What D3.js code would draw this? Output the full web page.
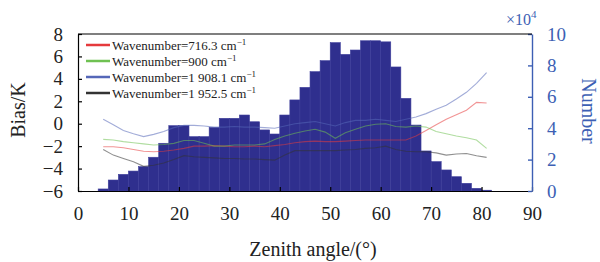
<!DOCTYPE html>
<html>
<head>
<meta charset="utf-8">
<script src="https://cdn.jsdelivr.net/npm/d3@7"></script>
<style>
  body { margin: 0; background: #fff; }
  svg text { font-family: "Liberation Serif", Tinos, "Times New Roman", Times, "DejaVu Serif", "Noto Serif", serif; }
</style>
</head>
<body>
<div id="chart"></div>
<script>
// histogram bins (left edge, 2 deg wide) and counts in units of 1e4
var binStart = [4, 6, 8, 10, 12, 14, 16, 18, 20, 22, 24, 26, 28, 30, 32, 34, 36, 38, 40, 42,
                44, 46, 48, 50, 52, 54, 56, 58, 60, 62, 64, 66, 68, 70, 72, 74, 76, 78, 80];
var binCount = [0.13, 0.7, 1.06, 1.27, 1.55, 2.15, 3.04, 4.16, 4.16, 3.46, 3.46, 4.05, 4.63, 4.63, 4.84, 4.41, 3.89, 3.63, 4.84, 5.8,
                6.6, 7.6, 8.3, 9.45, 8.7, 8.98, 9.57, 9.57, 9.5, 7.9, 5.9, 4.2, 2.55, 1.87, 1.34, 0.91, 0.49, 0.17, 0.05];

// bias curves, sampled at these zenith angles
var angles = [5, 7, 9, 11, 13, 15, 17, 19, 21, 23, 25, 27, 29, 31, 33, 35, 37, 39, 41, 43,
              45, 47, 49, 51, 53, 55, 57, 59, 61, 63, 65, 67, 69, 71, 73, 75, 77, 79, 81];
var bias716 = [-2.05, -2.05, -2.15, -2.3, -2.45, -2.5, -2.45, -2.35, -2.2, -2.0, -2.0, -1.95, -2.0, -2.05, -2.05, -2.0, -2.05, -1.95, -1.85, -1.7,
               -1.6, -1.55, -1.6, -1.6, -1.55, -1.5, -1.45, -1.45, -1.45, -1.45, -1.45, -1.1, -0.6, -0.1, 0.4, 0.8, 1.2, 1.9, 1.85];
var bias900 = [-1.4, -1.45, -1.6, -1.7, -1.8, -1.9, -1.85, -1.75, -1.5, -1.5, -1.75, -2.0, -2.0, -1.9, -1.9, -1.9, -1.8, -1.4, -1.1, -0.85,
               -0.65, -0.5, -0.75, -1.3, -0.8, -0.5, -0.2, -0.05, 0.0, -0.25, -0.3, -0.2, -0.3, -0.7, -0.9, -1.1, -1.25, -1.45, -2.2];
var bias1908 = [0.4, -0.1, -0.6, -0.9, -1.15, -0.95, -0.7, -0.35, -0.15, -0.15, -0.2, -0.3, -0.3, -0.25, -0.3, -0.3, -0.35, -0.4, -0.2, 0.0,
                0.1, 0.2, 0.0, -0.2, 0.1, 0.3, 0.3, 0.4, 0.3, 0.2, 0.4, 0.6, 0.9, 1.3, 1.65, 2.2, 2.8, 3.6, 4.55];
var bias1952 = [-2.3, -2.8, -3.1, -3.4, -3.8, -3.7, -3.5, -3.2, -2.85, -2.95, -3.0, -3.05, -3.1, -3.1, -3.15, -3.15, -3.2, -3.25, -2.8, -2.4,
                -2.4, -2.4, -2.4, -2.4, -2.35, -2.3, -2.2, -2.15, -2.0, -2.3, -2.45, -2.5, -2.5, -2.6, -2.8, -2.7, -2.65, -2.85, -3.0];

var seriesNames = ["716.3", "900", "1 908.1", "1 952.5"];
var seriesData = [bias716, bias900, bias1908, bias1952];
var seriesColors = ["#e53a3c", "#6fc152", "#5567b8", "#333333"];

var xTicks = [0, 10, 20, 30, 40, 50, 60, 70, 80, 90];
var leftTicks = [-6, -4, -2, 0, 2, 4, 6, 8];
var rightTicks = [0, 2, 4, 6, 8, 10];

var width = 600, height = 262;
var blue = "#3d5fb4";
var serif = "'Liberation Serif', Tinos, 'Times New Roman', Times, 'DejaVu Serif', serif";

var svg = d3.select("#chart").append("svg")
    .attr("width", width)
    .attr("height", height)
    .attr("font-family", serif);

var x = d3.scaleLinear().domain([0, 90]).range([78, 532]);
var yL = d3.scaleLinear().domain([-6, 8]).range([191, 34]);
var yR = d3.scaleLinear().domain([0, 10]).range([191, 34]);

// bars
svg.append("g")
    .selectAll("rect")
    .data(binStart)
    .enter().append("rect")
    .attr("x", d => x(d))
    .attr("width", d => x(d + 2) - x(d))
    .attr("y", (d, i) => yR(binCount[i]))
    .attr("height", (d, i) => yR(0) - yR(binCount[i]))
    .attr("fill", "#2f2f8e")
    .attr("stroke", "#3d3d9a")
    .attr("stroke-width", 0.6);

// bias lines, on top of bars, semi transparent
var line = d3.line()
    .x((d, i) => x(angles[i]))
    .y(d => yL(d));

svg.append("g")
    .selectAll("path")
    .data(seriesData)
    .enter().append("path")
    .attr("d", line)
    .attr("fill", "none")
    .attr("stroke", (d, i) => seriesColors[i])
    .attr("stroke-width", 1.1)
    .attr("stroke-opacity", 0.55);

// axes
var gx = svg.append("g")
    .attr("transform", "translate(0,191)")
    .call(d3.axisBottom(x).tickValues(xTicks).tickSize(-4).tickSizeOuter(0).tickPadding(16));

var gl = svg.append("g")
    .attr("transform", "translate(78,0)")
    .call(d3.axisLeft(yL).tickValues(leftTicks).tickSize(-4).tickSizeOuter(0).tickPadding(15));

var gr = svg.append("g")
    .attr("transform", "translate(532,0)")
    .call(d3.axisRight(yR).tickValues(rightTicks).tickSize(-4).tickSizeOuter(0).tickPadding(15));

[gx, gl, gr].forEach(function(g) {
    g.attr("font-family", serif).attr("font-size", 19);
});
[gx, gl].forEach(function(g) {
    g.selectAll("path, line").attr("stroke", "#000").attr("stroke-width", 1.2);
    g.selectAll("text").attr("fill", "#222");
});
gr.selectAll("path, line").attr("stroke", blue).attr("stroke-width", 1.4);
gr.selectAll("text").attr("fill", blue);

// top frame line
svg.append("line")
    .attr("x1", x(0)).attr("x2", x(90))
    .attr("y1", yL(8)).attr("y2", yL(8))
    .attr("stroke", "#000").attr("stroke-width", 1.2);

// axis titles
svg.append("text")
    .attr("x", 313).attr("y", 256)
    .attr("text-anchor", "middle")
    .attr("font-size", 20)
    .attr("fill", "#222")
    .text("Zenith angle/(°)");

svg.append("text")
    .attr("transform", "translate(25,110) rotate(-90)")
    .attr("text-anchor", "middle")
    .attr("font-size", 20)
    .attr("fill", "#222")
    .text("Bias/K");

svg.append("text")
    .attr("transform", "translate(582,111) rotate(90)")
    .attr("text-anchor", "middle")
    .attr("font-size", 20)
    .attr("fill", blue)
    .text("Number");

var mult = svg.append("text")
    .attr("x", 506).attr("y", 25)
    .attr("font-size", 16)
    .attr("fill", blue);
mult.append("tspan").text("×10");
mult.append("tspan").attr("dy", -7).attr("font-size", 11).text("4");

// legend
var legend = svg.append("g");
seriesNames.forEach(function(name, i) {
    var ly = 45 + i * 16;
    legend.append("line")
        .attr("x1", 86).attr("x2", 110)
        .attr("y1", ly).attr("y2", ly)
        .attr("stroke", seriesColors[i])
        .attr("stroke-width", 2.5);
    var t = legend.append("text")
        .attr("x", 112).attr("y", ly + 4.5)
        .attr("font-size", 13)
        .attr("fill", "#222");
    t.append("tspan").text("Wavenumber=" + name + " cm");
    t.append("tspan").attr("dy", -5).attr("font-size", 9).text("−1");
});
</script>
</body>
</html>
